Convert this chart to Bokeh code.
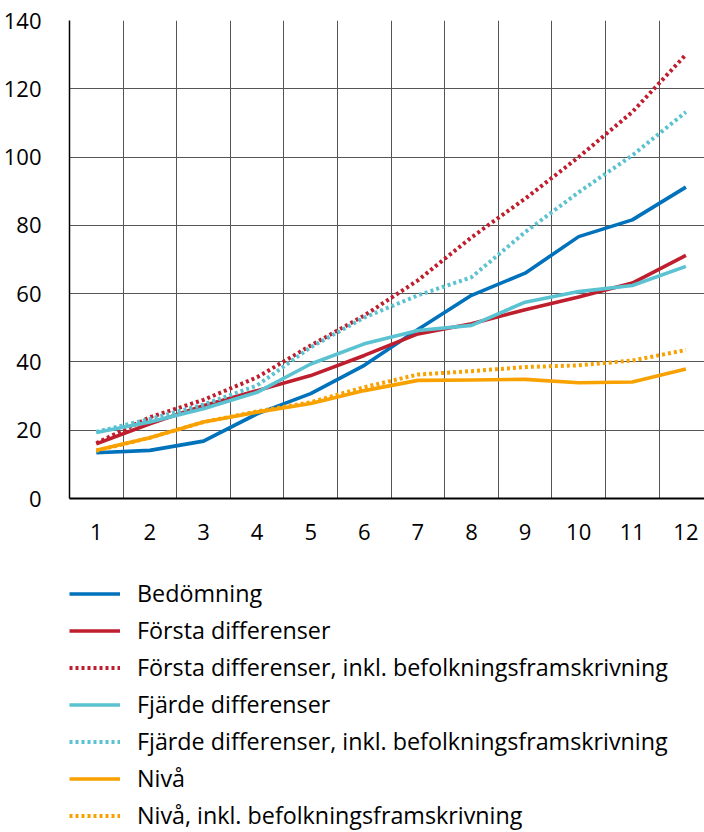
from bokeh.plotting import figure
from bokeh.models import FixedTicker, Range1d, Legend, LegendItem
from bokeh.layouts import column
from bokeh.embed import file_html
from bokeh.resources import INLINE

# ---- data ----
periods = [1, 2, 3, 4, 5, 6, 7, 8, 9, 10, 11, 12]
tick_labels = [str(v) for v in periods]
bedomning = [13.4, 14.1, 16.8, 24.8, 30.7, 39.0, 49.5, 59.5, 66.0, 76.7, 81.6, 91.2]
forsta = [16.0, 21.9, 27.2, 31.6, 36.0, 41.9, 48.2, 51.2, 55.3, 59.0, 63.1, 71.2]
forsta_inkl = [16.2, 23.8, 28.9, 35.5, 44.8, 53.6, 63.9, 76.5, 87.8, 100.0, 113.2, 130.0]
fjarde = [19.3, 22.4, 26.3, 31.1, 39.4, 45.3, 49.2, 50.7, 57.5, 60.6, 62.4, 68.0]
fjarde_inkl = [19.5, 23.3, 27.5, 33.1, 44.3, 53.0, 59.5, 64.8, 78.0, 89.7, 100.5, 113.2]
niva = [14.1, 17.8, 22.4, 25.3, 27.8, 31.6, 34.6, 34.7, 34.9, 33.9, 34.1, 37.9]
niva_inkl = [14.0, 17.8, 22.4, 25.5, 28.2, 32.6, 36.3, 37.3, 38.5, 39.0, 40.4, 43.5]
y_ticks = [0, 20, 40, 60, 80, 100, 120, 140]

series_names = [
    "Bedömning",
    "Första differenser",
    "Första differenser, inkl. befolkningsframskrivning",
    "Fjärde differenser",
    "Fjärde differenser, inkl. befolkningsframskrivning",
    "Nivå",
    "Nivå, inkl. befolkningsframskrivning",
]
series_values = [bedomning, forsta, forsta_inkl, fjarde, fjarde_inkl, niva, niva_inkl]

BLUE = "#0072bc"
RED = "#be1e2d"
TEAL = "#5bc2d1"
ORANGE = "#f8a100"
styles = [
    (BLUE, "solid", 3.6),
    (RED, "solid", 3.6),
    (RED, "3 3", 4),
    (TEAL, "solid", 3.6),
    (TEAL, "3 3", 4),
    (ORANGE, "solid", 3.6),
    (ORANGE, "3 3", 4),
]

FONT = "Open Sans"
GRID = "#555555"

# ---- main chart ----
p = figure(width=704, height=560, output_backend="svg", toolbar_location=None,
           x_range=Range1d(0.5, 0.5 + 635 / 53.6), y_range=Range1d(0, 140),
           min_border_left=69, min_border_right=0, min_border_top=20, min_border_bottom=62)
p.outline_line_color = None
p.background_fill_color = "white"
p.border_fill_color = "white"

for vals, (color, dash, lw) in zip(series_values, styles):
    p.line(periods, vals, line_color=color, line_width=lw, line_dash=dash,
           line_join="round", line_cap="butt")

p.xaxis.ticker = FixedTicker(ticks=periods)
p.xaxis.major_label_overrides = {v: lab for v, lab in zip(periods, tick_labels)}
p.xgrid.ticker = FixedTicker(ticks=[v + 0.5 for v in periods])
p.yaxis.ticker = FixedTicker(ticks=y_ticks)

for ax in (p.xaxis, p.yaxis):
    ax.major_tick_line_color = None
    ax.minor_tick_line_color = None
    ax.axis_line_color = "black"
    ax.major_label_text_font = FONT
    ax.major_label_text_font_size = "22px"
    ax.major_label_text_color = "black"
p.xaxis.axis_line_width = 2
p.yaxis.axis_line_width = 1.5
p.xaxis.major_label_standoff = 19
p.yaxis.major_label_standoff = 22

p.xgrid.grid_line_color = GRID
p.ygrid.grid_line_color = GRID
p.xgrid.grid_line_width = 1
p.ygrid.grid_line_width = 1

# ---- legend (separate panel; series drawn out of view, only legend visible) ----
q = figure(width=704, height=272, output_backend="svg", toolbar_location=None,
           x_range=Range1d(0, 1), y_range=Range1d(1000, 1001),
           min_border_left=69, min_border_right=0, min_border_top=17, min_border_bottom=0)
q.axis.visible = False
q.grid.visible = False
q.outline_line_color = None

items = []
for name, vals, (color, dash, lw) in zip(series_names, series_values, styles):
    r = q.line(periods, vals, line_color=color, line_width=lw, line_dash=dash)
    items.append(LegendItem(label=name, renderers=[r]))

legend = Legend(items=items, location="top_left", orientation="vertical",
                margin=0, padding=0, spacing=5,
                glyph_width=51, glyph_height=21, label_height=21, label_standoff=17,
                label_text_font=FONT, label_text_font_size="23.3px", label_text_color="black",
                border_line_color=None, background_fill_alpha=0)
q.add_layout(legend, "center")

layout = column(p, q, spacing=0)

open("out.html", "w").write(file_html(layout, INLINE))
